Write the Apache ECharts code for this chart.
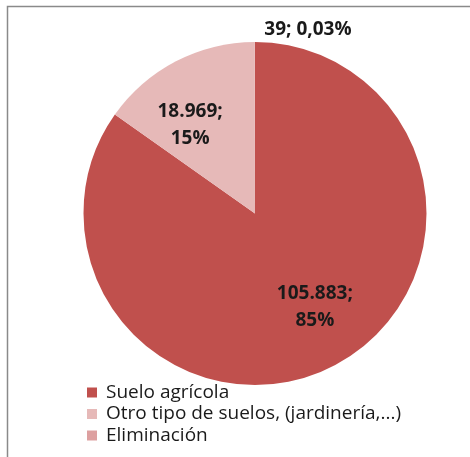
<!DOCTYPE html>
<html>
<head>
<meta charset="utf-8">
<script src="https://cdn.jsdelivr.net/npm/echarts@6/dist/echarts.min.js"></script>
<style>
  html, body { margin: 0; padding: 0; background: #ffffff; }
  #chart { width: 470px; height: 457px; }
</style>
</head>
<body>
<div id="chart"></div>
<script>
// Destino de los lodos (toneladas)
const categories = ['Suelo agrícola', 'Otro tipo de suelos, (jardinería,...)', 'Eliminación'];
const values = [105883, 18969, 39];
const colors = ['#C0504D', '#E6B9B8', '#DDA0A0'];
const labelOffsets = [[19, 15], [-24, -10], [53, -95]];

const total = values.reduce((a, b) => a + b, 0);

function fmtThousands(v) {
  return String(v).replace(/\B(?=(\d{3})+(?!\d))/g, '.');
}
function fmtPercent(v) {
  const p = v / total * 100;
  if (p < 1) return p.toFixed(2).replace('.', ',') + '%';
  return Math.round(p) + '%';
}

const data = categories.map((name, i) => ({
  name: name,
  value: values[i],
  itemStyle: { color: colors[i] },
  label: {
    offset: labelOffsets[i],
    formatter: i === 2
      ? fmtThousands(values[i]) + '; ' + fmtPercent(values[i])
      : fmtThousands(values[i]) + ';\n' + fmtPercent(values[i])
  }
}));

const chart = echarts.init(document.getElementById('chart'), null, { renderer: 'canvas' });
chart.setOption({
  animation: false,
  backgroundColor: '#ffffff',
  graphic: [
    {
      type: 'polyline',
      shape: { points: [[7.5, 460], [7.5, 6.5], [475, 6.5]] },
      style: { stroke: '#8a8a8a', lineWidth: 1.5, fill: null }
    }
  ],
  legend: {
    orient: 'vertical',
    left: 87,
    top: 383,
    height: 72,
    itemWidth: 10,
    itemHeight: 10,
    itemGap: 2.5,
    icon: 'rect',
    padding: 0,
    textStyle: {
      fontFamily: 'Open Sans',
      fontSize: 19,
      lineHeight: 19,
      color: '#1a1a1a',
      padding: [0, 0, 0, 4]
    },
    data: categories
  },
  series: [{
    type: 'pie',
    center: [255, 213.5],
    radius: 171.5,
    startAngle: 90,
    clockwise: true,
    avoidLabelOverlap: false,
    minAngle: 0,
    itemStyle: { borderWidth: 0 },
    label: {
      show: true,
      position: 'inside',
      fontFamily: 'Open Sans',
      fontWeight: 'bold',
      fontSize: 19,
      lineHeight: 27,
      color: '#1a1a1a',
      align: 'center'
    },
    labelLine: { show: false },
    emphasis: { disabled: true },
    data: data
  }]
});
</script>
</body>
</html>
